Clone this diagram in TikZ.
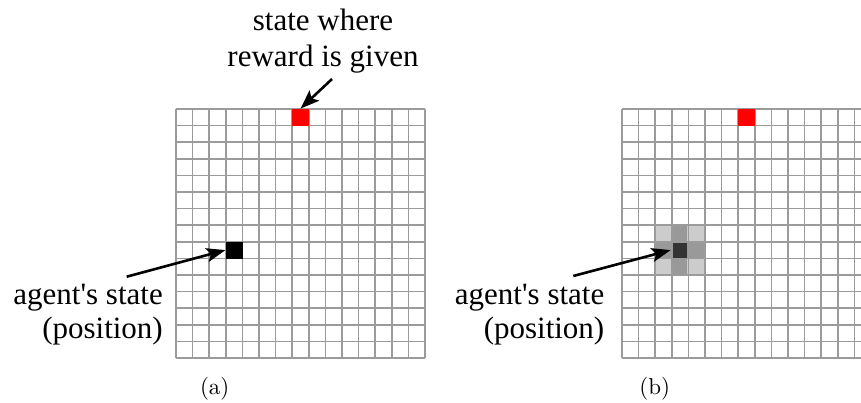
\documentclass[tikz,border=0pt]{standalone}
\usepackage{fontspec}
\newfontfamily\tnr[Ligatures=TeXOff]{Liberation Serif}
\newfontfamily\capfont{lmroman10-regular}[Extension=.otf]
\usetikzlibrary{arrows.meta}
\definecolor{gridgray}{RGB}{155,155,155}
\definecolor{nearA}{RGB}{153,153,153}
\definecolor{nearB}{RGB}{204,204,204}
\definecolor{agentdark}{RGB}{51,51,51}
\begin{document}
\begin{tikzpicture}[x=1pt,y=-1pt,
  gridline/.style={draw=gridgray, line width=1.5pt},
  cellbox/.style={rectangle, inner sep=0pt, minimum size=16.6pt, draw=none},
  lbl/.style={font=\tnr\fontsize{31}{35}\selectfont, inner sep=0pt},
  captext/.style={font=\capfont\fontsize{23}{26}\selectfont, inner sep=0pt},
  pointer/.style={line width=2.6pt, -{Stealth[length=19pt,width=14pt,inset=4pt]}}
]
\useasboundingbox (0,0) rectangle (861,403);

% ---- panel (a)
\foreach \i in {0,...,15} {
  \draw[gridline] (176+\i*16.6,109) -- (176+\i*16.6,358);
  \draw[gridline] (176,109+\i*16.6) -- (425,109+\i*16.6);
}
\node[cellbox, fill=red, minimum size=17pt] (redA) at (300.5,117.3) {};
\node[cellbox, fill=black, minimum size=17pt] (blackA) at (234.1,250.1) {};

% ---- panel (b)
\node[cellbox, fill=nearB] (b1) at (662.5,233.5) {};
\node[cellbox, fill=nearB] (b2) at (695.7,233.5) {};
\node[cellbox, fill=nearB] (b3) at (662.5,266.7) {};
\node[cellbox, fill=nearB] (b4) at (695.7,266.7) {};
\node[cellbox, fill=nearA] (a1) at (679.1,233.5) {};
\node[cellbox, fill=nearA] (a2) at (679.1,266.7) {};
\node[cellbox, fill=nearA] (a3) at (662.5,250.1) {};
\node[cellbox, fill=nearA] (a4) at (695.7,250.1) {};
\node[cellbox, fill=agentdark] (darkB) at (679.1,250.1) {};
\foreach \i in {0,...,14} {
  \draw[gridline] (622+\i*16.6,109) -- (622+\i*16.6,358);
}
\foreach \i in {0,...,15} {
  \draw[gridline] (622,109+\i*16.6) -- (861,109+\i*16.6);
}
\node[cellbox, fill=red, minimum size=17pt] (redB) at (746.5,117.3) {};

% ---- labels
\node[lbl, anchor=base] (goal1) at (323,31) {state where};
\node[lbl, anchor=base] (goal2) at (323,66.5) {reward is given};
\node[lbl, anchor=base east] (agA1) at (163,304) {agent's state};
\node[lbl, anchor=base east] (agA2) at (163,338.5) {(position)};
\node[lbl, anchor=base east] (agB1) at (604.5,304) {agent's state};
\node[lbl, anchor=base east] (agB2) at (604.5,338.5) {(position)};
\node[captext, anchor=base] (capA) at (214.7,394) {(a)};
\node[captext, anchor=base] (capB) at (654.7,394) {(b)};

% ---- arrows
\coordinate (tailG) at (332,79);
\coordinate (tailA) at (126.7,276.7);
\coordinate (tailB) at (573.3,276);
\draw[pointer] (tailG) -- (redA.north);
\draw[pointer] (tailA) -- (blackA.west);
\draw[pointer] (tailB) -- (darkB.west);
\end{tikzpicture}
\end{document}
